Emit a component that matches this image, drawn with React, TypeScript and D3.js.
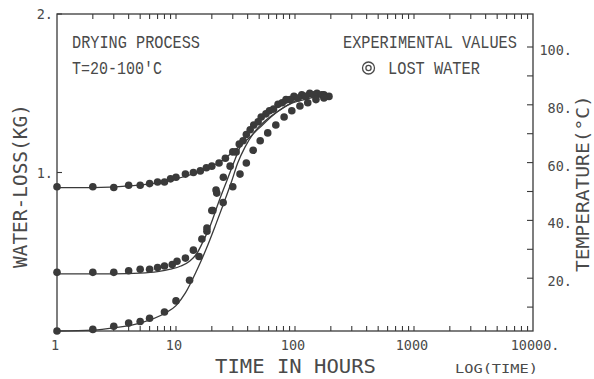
import React from 'react';
import * as d3 from 'd3';

// ---------- data (time in hours, water loss in kg) ----------
const timeA = [1, 2, 3, 4, 5, 6, 7, 8, 9, 10, 12, 14, 16, 18, 20, 23, 26, 30, 34, 39, 45, 52, 61, 72, 84, 98, 114, 133, 153, 175, 193];
const lossA = [0.91, 0.91, 0.905, 0.92, 0.92, 0.93, 0.94, 0.94, 0.96, 0.97, 0.99, 1.0, 1.01, 1.03, 1.04, 1.06, 1.09, 1.13, 1.18, 1.24, 1.3, 1.35, 1.39, 1.43, 1.46, 1.48, 1.49, 1.5, 1.5, 1.49, 1.48];

const timeB = [1, 2, 3, 4, 5, 6, 7, 8, 9.3, 10.2, 12, 14, 16.5, 18.2, 20.4, 22, 25, 28.5, 32, 36.6, 42, 49, 57, 66, 78, 91, 106, 123, 144, 168];
const lossB = [0.37, 0.37, 0.37, 0.38, 0.39, 0.39, 0.4, 0.41, 0.42, 0.44, 0.46, 0.51, 0.58, 0.63, 0.76, 0.87, 0.97, 1.04, 1.13, 1.2, 1.27, 1.32, 1.37, 1.4, 1.44, 1.46, 1.47, 1.48, 1.49, 1.49];

const timeC = [1, 2, 3, 4, 5, 6, 8, 10, 13, 15.6, 18.2, 20, 21.7, 24.9, 30, 34.5, 39, 44.5, 51, 59, 69, 81, 94, 110, 128, 150, 175];
const lossC = [0.0, 0.01, 0.03, 0.05, 0.06, 0.08, 0.12, 0.19, 0.32, 0.47, 0.65, 0.76, 0.89, 0.81, 0.91, 0.99, 1.06, 1.14, 1.2, 1.25, 1.3, 1.35, 1.39, 1.42, 1.44, 1.46, 1.47];

// fitted curves
const fitTimeA = [1, 2, 4, 7, 10, 15, 20, 25, 30, 40, 50, 65, 80, 100, 130, 160, 190];
const fitLossA = [0.905, 0.905, 0.915, 0.935, 0.96, 1.0, 1.04, 1.08, 1.13, 1.21, 1.28, 1.36, 1.41, 1.45, 1.48, 1.49, 1.49];

const fitTimeB = [1, 3, 5, 7, 9, 11, 13, 15, 17, 19.3, 23, 26.8, 30.5, 34.5, 40, 48, 60, 75, 100, 140, 190];
const fitLossB = [0.36, 0.36, 0.365, 0.375, 0.39, 0.41, 0.44, 0.49, 0.57, 0.66, 0.82, 0.95, 1.06, 1.16, 1.25, 1.32, 1.38, 1.42, 1.46, 1.48, 1.49];

const fitTimeC = [1, 2, 3, 5, 8, 10, 12, 15, 18, 21.3, 25, 29.5, 33, 38, 45, 55, 70, 90, 120, 160, 190];
const fitLossC = [0, 0.006, 0.02, 0.05, 0.11, 0.16, 0.24, 0.385, 0.52, 0.66, 0.8, 0.95, 1.06, 1.16, 1.25, 1.32, 1.38, 1.43, 1.46, 1.48, 1.49];

// axes
const xTickValues = [1, 10, 100, 1000, 10000];
const xTickLabels = ['1', '10', '100', '1000', '10000.'];
const leftTickValues = [1, 2];
const leftTickLabels = ['1.', '2.'];
const rightTickValues = [20, 40, 60, 80, 100];
const rightTickLabels = ['20.', '40.', '60.', '80.', '100.'];
const rightMinorValues = [10, 30, 50, 70, 90];

const INK = '#3a3a3a';
const TXT = '#4a4a4a';
const MONO = 'DejaVu Sans Mono, monospace';
const TYPE = 'Liberation Mono, monospace';

function SText(props: { x: number; y: number; fs: number; fam: string; target: number; text: string; rot?: number }) {
  const { x, y, fs, fam, target, text, rot = 0 } = props;
  const adv = fam === TYPE ? 0.6 : 0.602;
  const sx = target / (text.length * adv * fs);
  return (
    <text transform={`translate(${x},${y}) rotate(${rot}) scale(${sx.toFixed(4)},1)`}
      fontFamily={fam} fontSize={fs} fill={TXT}>{text}</text>
  );
}

export default function App() {
  const L = 57, R = 533, T = 14, B = 331;
  const x = d3.scaleLog().domain([1, 10000]).range([L, R]);
  const y = d3.scaleLinear().domain([0, 2]).range([B, T]);
  const yT = d3.scaleLinear().domain([0, 100]).range([336, 47]);

  const line = d3.line<[number, number]>()
    .x(d => x(d[0]))
    .y(d => y(d[1]))
    .curve(d3.curveMonotoneX);

  const zip = (a: number[], b: number[]) => a.map((v, i) => [v, b[i]] as [number, number]);

  const minor: number[] = [];
  for (let d = 0; d < 4; d++) for (let k = 2; k <= 9; k++) minor.push(k * Math.pow(10, d));

  const series = [zip(timeA, lossA), zip(timeB, lossB), zip(timeC, lossC)];
  const fits = [zip(fitTimeA, fitLossA), zip(fitTimeB, fitLossB), zip(fitTimeC, fitLossC)];

  return (
    <svg width={594} height={379} style={{ position: 'absolute', left: 0, top: 0, background: '#fff' }}>
      {/* frame */}
      <rect x={L} y={T} width={R - L} height={B - T} fill="none" stroke={INK} strokeWidth={1.3} />
      {/* log ticks top & bottom */}
      {minor.concat(xTickValues.slice(1, 4)).map((v, i) => (
        <g key={'xt' + i}>
          <line x1={x(v)} x2={x(v)} y1={B} y2={B - 5} stroke={INK} strokeWidth={1.1} />
          <line x1={x(v)} x2={x(v)} y1={T} y2={T + 5} stroke={INK} strokeWidth={1.1} />
        </g>
      ))}
      {/* left ticks */}
      {leftTickValues.map((v, i) => (
        <g key={'lt' + i}>
          <line x1={L} x2={L + 5} y1={y(v)} y2={y(v)} stroke={INK} strokeWidth={1.1} />
          <text x={53} y={y(v) + 5} textAnchor="end" fontFamily={MONO} fontSize={13.5} fill={TXT}>{leftTickLabels[i]}</text>
        </g>
      ))}
      {/* right ticks */}
      {rightMinorValues.map((v, i) => (
        <line key={'rm' + i} x1={R} x2={R - 6} y1={yT(v)} y2={yT(v)} stroke={INK} strokeWidth={1.1} />
      ))}
      {rightTickValues.map((v, i) => (
        <g key={'rt' + i}>
          <line x1={R} x2={R - 6} y1={yT(v)} y2={yT(v)} stroke={INK} strokeWidth={1.1} />
          <text x={572} y={yT(v) + 8} textAnchor="end" fontFamily={MONO} fontSize={13.5} fill={TXT}>{rightTickLabels[i]}</text>
        </g>
      ))}
      {/* bottom tick labels */}
      {xTickValues.map((v, i) => {
        const lab = xTickLabels[i];
        const digits = lab.replace('.', '').length;
        const start = x(v) - 2 - (digits * 8.13) / 2;
        return (
          <text key={'xl' + i} x={start} y={350} fontFamily={MONO} fontSize={13.5} fill={TXT}>{lab}</text>
        );
      })}

      {/* fitted curves */}
      {fits.map((f, i) => (
        <path key={'f' + i} d={line(f) || ''} fill="none" stroke={INK} strokeWidth={1.3} />
      ))}
      {/* data points */}
      {series.map((s, i) => s.map((p, j) => (
        <circle key={'p' + i + '_' + j} cx={x(p[0])} cy={y(p[1])} r={3.8} fill={INK} />
      )))}

      {/* axis titles */}
      <SText x={215} y={373} fs={19} fam={MONO} target={161} text="TIME IN HOURS" />
      <SText x={455} y={373} fs={12.5} fam={MONO} target={83} text="LOG(TIME)" />
      <SText x={27} y={268} fs={19} fam={MONO} target={164} text="WATER-LOSS(KG)" rot={-90} />
      <SText x={589} y={272} fs={17} fam={MONO} target={177} text="TEMPERATURE(°C)" rot={-90} />

      {/* annotations */}
      <SText x={72} y={48} fs={19} fam={TYPE} target={128} text="DRYING PROCESS" />
      <SText x={72} y={74} fs={19} fam={TYPE} target={90} text="T=20-100'C" />
      <SText x={343} y={48} fs={19} fam={TYPE} target={174} text="EXPERIMENTAL VALUES" />
      <circle cx={368.5} cy={68} r={6} fill="none" stroke={TXT} strokeWidth={1.3} />
      <circle cx={368.5} cy={68} r={2.6} fill="none" stroke={TXT} strokeWidth={1.3} />
      <SText x={388} y={74} fs={19} fam={TYPE} target={92} text="LOST WATER" />
    </svg>
  );
}
